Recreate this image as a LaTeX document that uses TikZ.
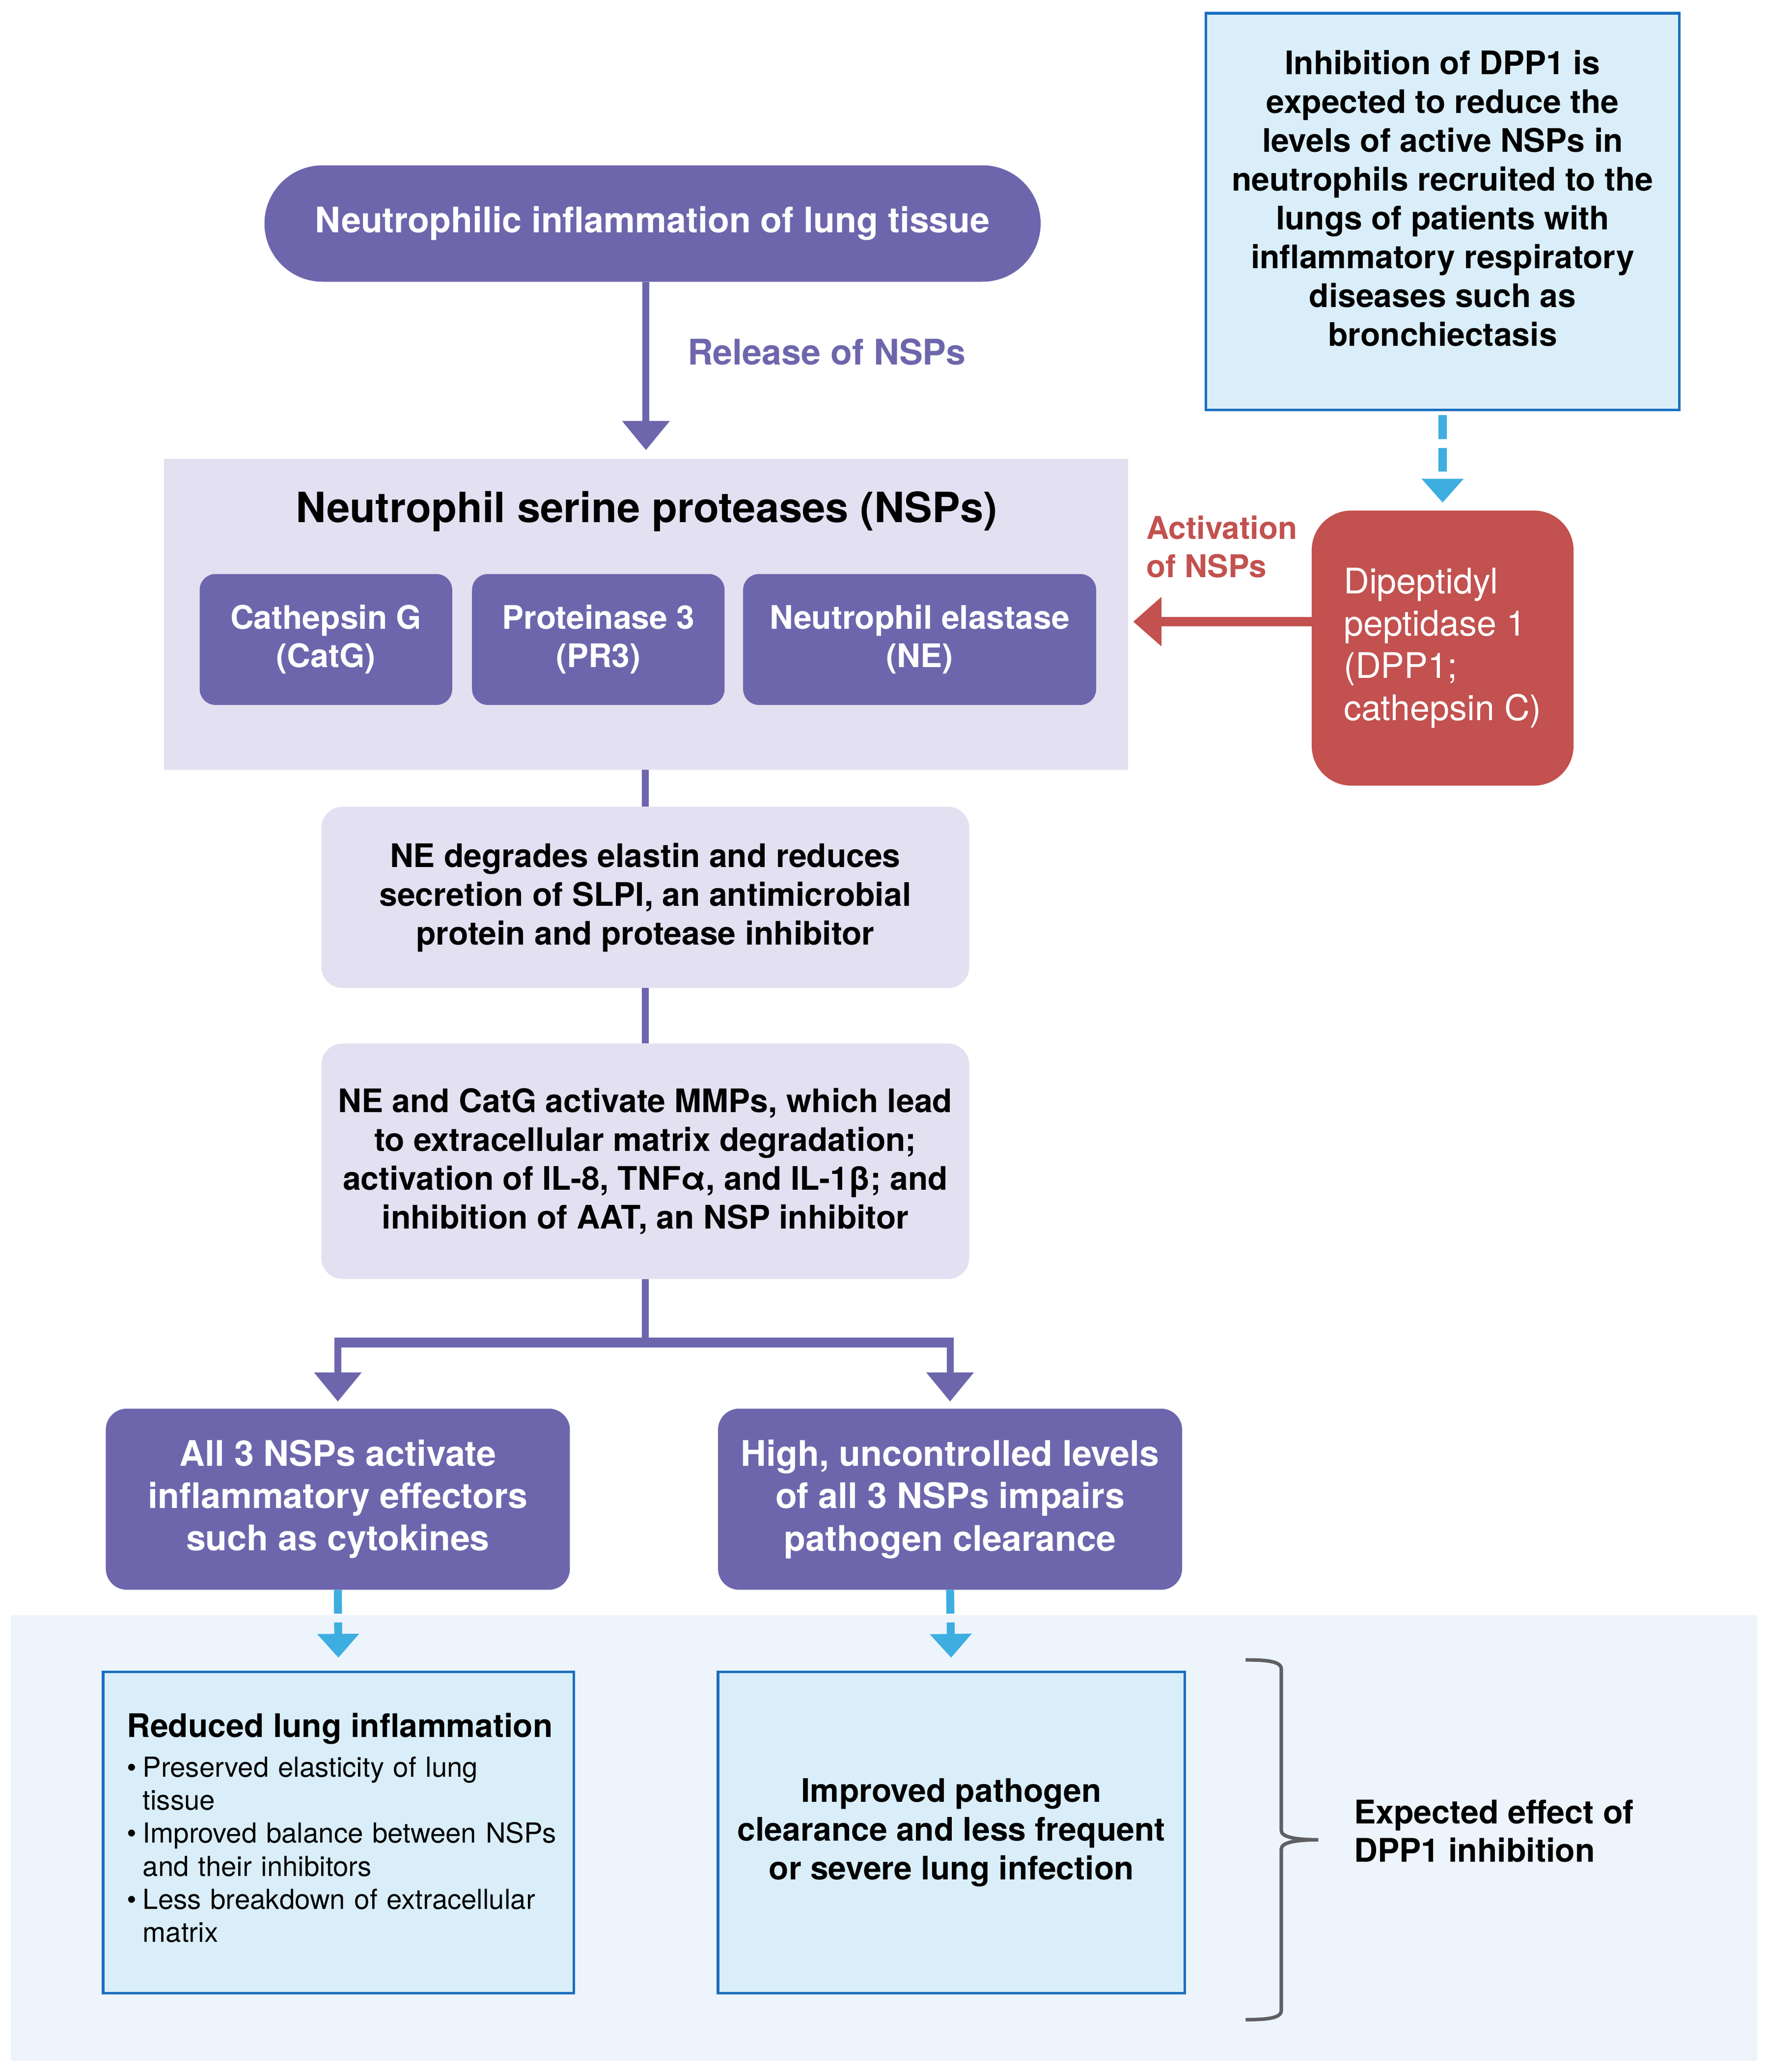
\documentclass[tikz,border=0pt]{standalone}
\usepackage{fontspec}
\setmainfont{TeX Gyre Heros}
\usetikzlibrary{arrows.meta}
\setlength{\parindent}{0pt}
\definecolor{nsppurple}{HTML}{6E66AC}
\definecolor{lav}{HTML}{E3E0F1}
\definecolor{dppred}{HTML}{C2514F}
\definecolor{lblue}{HTML}{D9EEF9}
\definecolor{bblue}{HTML}{1B6FBF}
\definecolor{dblue}{HTML}{3EAEE1}
\definecolor{bgblue}{HTML}{EDF4FB}
\definecolor{bracegray}{HTML}{5E5F63}
\newcommand{\myfs}[2]{\fontsize{#1}{#2}\selectfont}
\begin{document}
\begin{tikzpicture}[x=0.75pt,y=-0.75pt,
 base/.style={inner sep=0pt, outer sep=0pt, align=center},
 pbox/.style={base, fill=nsppurple, text=white, font=\bfseries\myfs{18.4}{21.75}},
 lavbox/.style={base, fill=lav, text=black, font=\bfseries\myfs{18.4}{22}, rounded corners=12pt},
 bluebox/.style={base, fill=lblue, draw=bblue, line width=1.5pt},
 plain/.style={base, text=black},
 pline/.style={draw=nsppurple, line width=3.9pt},
 parrow/.style={pline, -{Triangle[width=26pt,length=16.5pt]}},
 rarrow/.style={draw=dppred, line width=5.5pt, -{Triangle[width=27pt,length=16pt]}},
 darrow/.style={draw=dblue, line width=4.5pt, dash pattern=on 13.5pt off 5pt, -{Triangle[width=23pt,length=13.5pt]}},
 bracestyle/.style={draw=bracegray, line width=2pt}
]
\useasboundingbox (0,0) rectangle (1336,1566.6);
\fill[white] (0,0) rectangle (1336,1566.6);
\fill[bgblue] (8,1221) rectangle (1329,1558);

% top pill
\node[pbox, minimum width=440.25pt, minimum height=66pt, rounded corners=33pt, font=\bfseries\myfs{20}{24}] (pill) at (493.5,169) {Neutrophilic inflammation of lung tissue};
\node[base, anchor=west, text=nsppurple, font=\bfseries\myfs{20}{24}] (rel) at (520,266) {Release of NSPs};

% NSP group
\node[base, fill=lav, minimum width=546.75pt, minimum height=176.25pt] (nsp) at (488.5,464.5) {};
\node[plain, font=\bfseries\myfs{23.7}{28}] (nsptitle) at (489,386.5) {Neutrophil serine proteases (NSPs)};
\node[pbox, rounded corners=9pt, minimum width=143.25pt, minimum height=74.25pt] (catg) at (246.5,483.5) {Cathepsin G\\(CatG)};
\node[pbox, rounded corners=9pt, minimum width=143.25pt, minimum height=74.25pt] (pr3) at (452.5,483.5) {Proteinase 3\\(PR3)};
\node[pbox, rounded corners=9pt, minimum width=200.25pt, minimum height=74.25pt] (ne) at (695.5,483.5) {Neutrophil elastase\\(NE)};

% top right info box
\node[bluebox, minimum width=268.5pt, minimum height=225pt] (tr) at (1091,160) {};
\node[plain, font=\bfseries\myfs{18.4}{22}] (trtext) at (1091,150) {Inhibition of DPP1 is\\expected to reduce the\\levels of active NSPs in\\neutrophils recruited to the\\lungs of patients with\\inflammatory respiratory\\diseases such as\\bronchiectasis};

% DPP1
\node[base, fill=dppred, text=white, rounded corners=22.5pt, minimum width=148.5pt, minimum height=156pt, font=\myfs{20}{24}, align=left] (dpp1) at (1091,490) {Dipeptidyl\\peptidase 1\\(DPP1;\\cathepsin C)};
\node[base, anchor=west, align=left, text=dppred, font=\bfseries\myfs{17.8}{21.75}] (act) at (867,413.5) {Activation\\of NSPs};

% middle boxes
\node[lavbox, minimum width=367.5pt, minimum height=102.75pt] (box2) at (488,678.5) {NE degrades elastin and reduces\\secretion of SLPI, an antimicrobial\\protein and protease inhibitor};
\node[lavbox, minimum width=367.5pt, minimum height=133.5pt] (box3) at (488,878) {NE and CatG activate MMPs, which lead\\to extracellular matrix degradation;\\activation of IL-8, TNFα, and IL-1β; and\\inhibition of AAT, an NSP inhibitor};

% lower purple boxes
\node[pbox, rounded corners=12pt, minimum width=263.25pt, minimum height=102.75pt, font=\bfseries\myfs{20}{24}] (lp) at (255.5,1133.5) {All 3 NSPs activate\\inflammatory effectors\\such as cytokines};
\node[pbox, rounded corners=12pt, minimum width=263.25pt, minimum height=102.75pt, font=\bfseries\myfs{20}{24}] (rp) at (718.5,1133.5) {High, uncontrolled levels\\of all 3 NSPs impairs\\pathogen clearance};

% bottom outcome boxes
\node[bluebox, minimum width=267pt, minimum height=182.25pt] (bl) at (256,1385.5) {};
\node[base, anchor=west, text width=247.5pt, align=left, font=\myfs{15.7}{18.75}] (bltext) at (96,1382) {{\bfseries\myfs{18.4}{22}Reduced lung inflammation\par}\vspace{3.75pt}
\makebox[9pt][l]{\textbullet}Preserved elasticity of lung\par
\hspace*{9pt}tissue\par
\makebox[9pt][l]{\textbullet}Improved balance between NSPs\par
\hspace*{9pt}and their inhibitors\par
\makebox[9pt][l]{\textbullet}Less breakdown of extracellular\par
\hspace*{9pt}matrix\par};
\node[bluebox, minimum width=264.75pt, minimum height=182.25pt, font=\bfseries\myfs{18.4}{22}] (br) at (719.5,1385.5) {Improved pathogen\\clearance and less frequent\\or severe lung infection};

\node[base, anchor=west, align=left, font=\bfseries\myfs{18.5}{21.75}] (exp) at (1024,1384.5) {Expected effect of\\DPP1 inhibition};

% connectors
\draw[parrow, shorten >=5pt] (nsp.north |- pill.south) -- (nsp.north);
\draw[pline] (box2.north |- nsp.south) -- (box2.north);
\draw[pline] (box2.south) -- (box3.north);
\coordinate (fkh) at (0,1015);
\draw[pline] (box3.south) -- (box3.south |- fkh);
\draw[pline, line width=5.5pt] ([xshift=-1.95pt]lp.north |- fkh) -- ([xshift=1.95pt]rp.north |- fkh);
\draw[parrow, shorten >=4pt] (lp.north |- fkh) -- (lp.north);
\draw[parrow, shorten >=4pt] (rp.north |- fkh) -- (rp.north);

\coordinate (ra) at ([yshift=15pt]dpp1.west);
\draw[rarrow, shorten >=3pt] (ra) -- (ra -| nsp.east);

\draw[darrow, shorten <=3pt, shorten >=4.5pt] (tr.south) -- (dpp1.north);
\draw[darrow, shorten >=8pt] (lp.south) -- (bl.north);
\draw[darrow, shorten >=8pt] (rp.south) -- (br.north);

% brace
\draw[bracestyle] (942,1255) .. controls (958,1255) and (969,1256) .. (969,1262) -- (969,1384) .. controls (969,1389) and (980,1391) .. (997,1391) .. controls (980,1391) and (969,1393) .. (969,1398) -- (969,1520) .. controls (969,1526) and (958,1527) .. (942,1527);
\end{tikzpicture}
\end{document}
